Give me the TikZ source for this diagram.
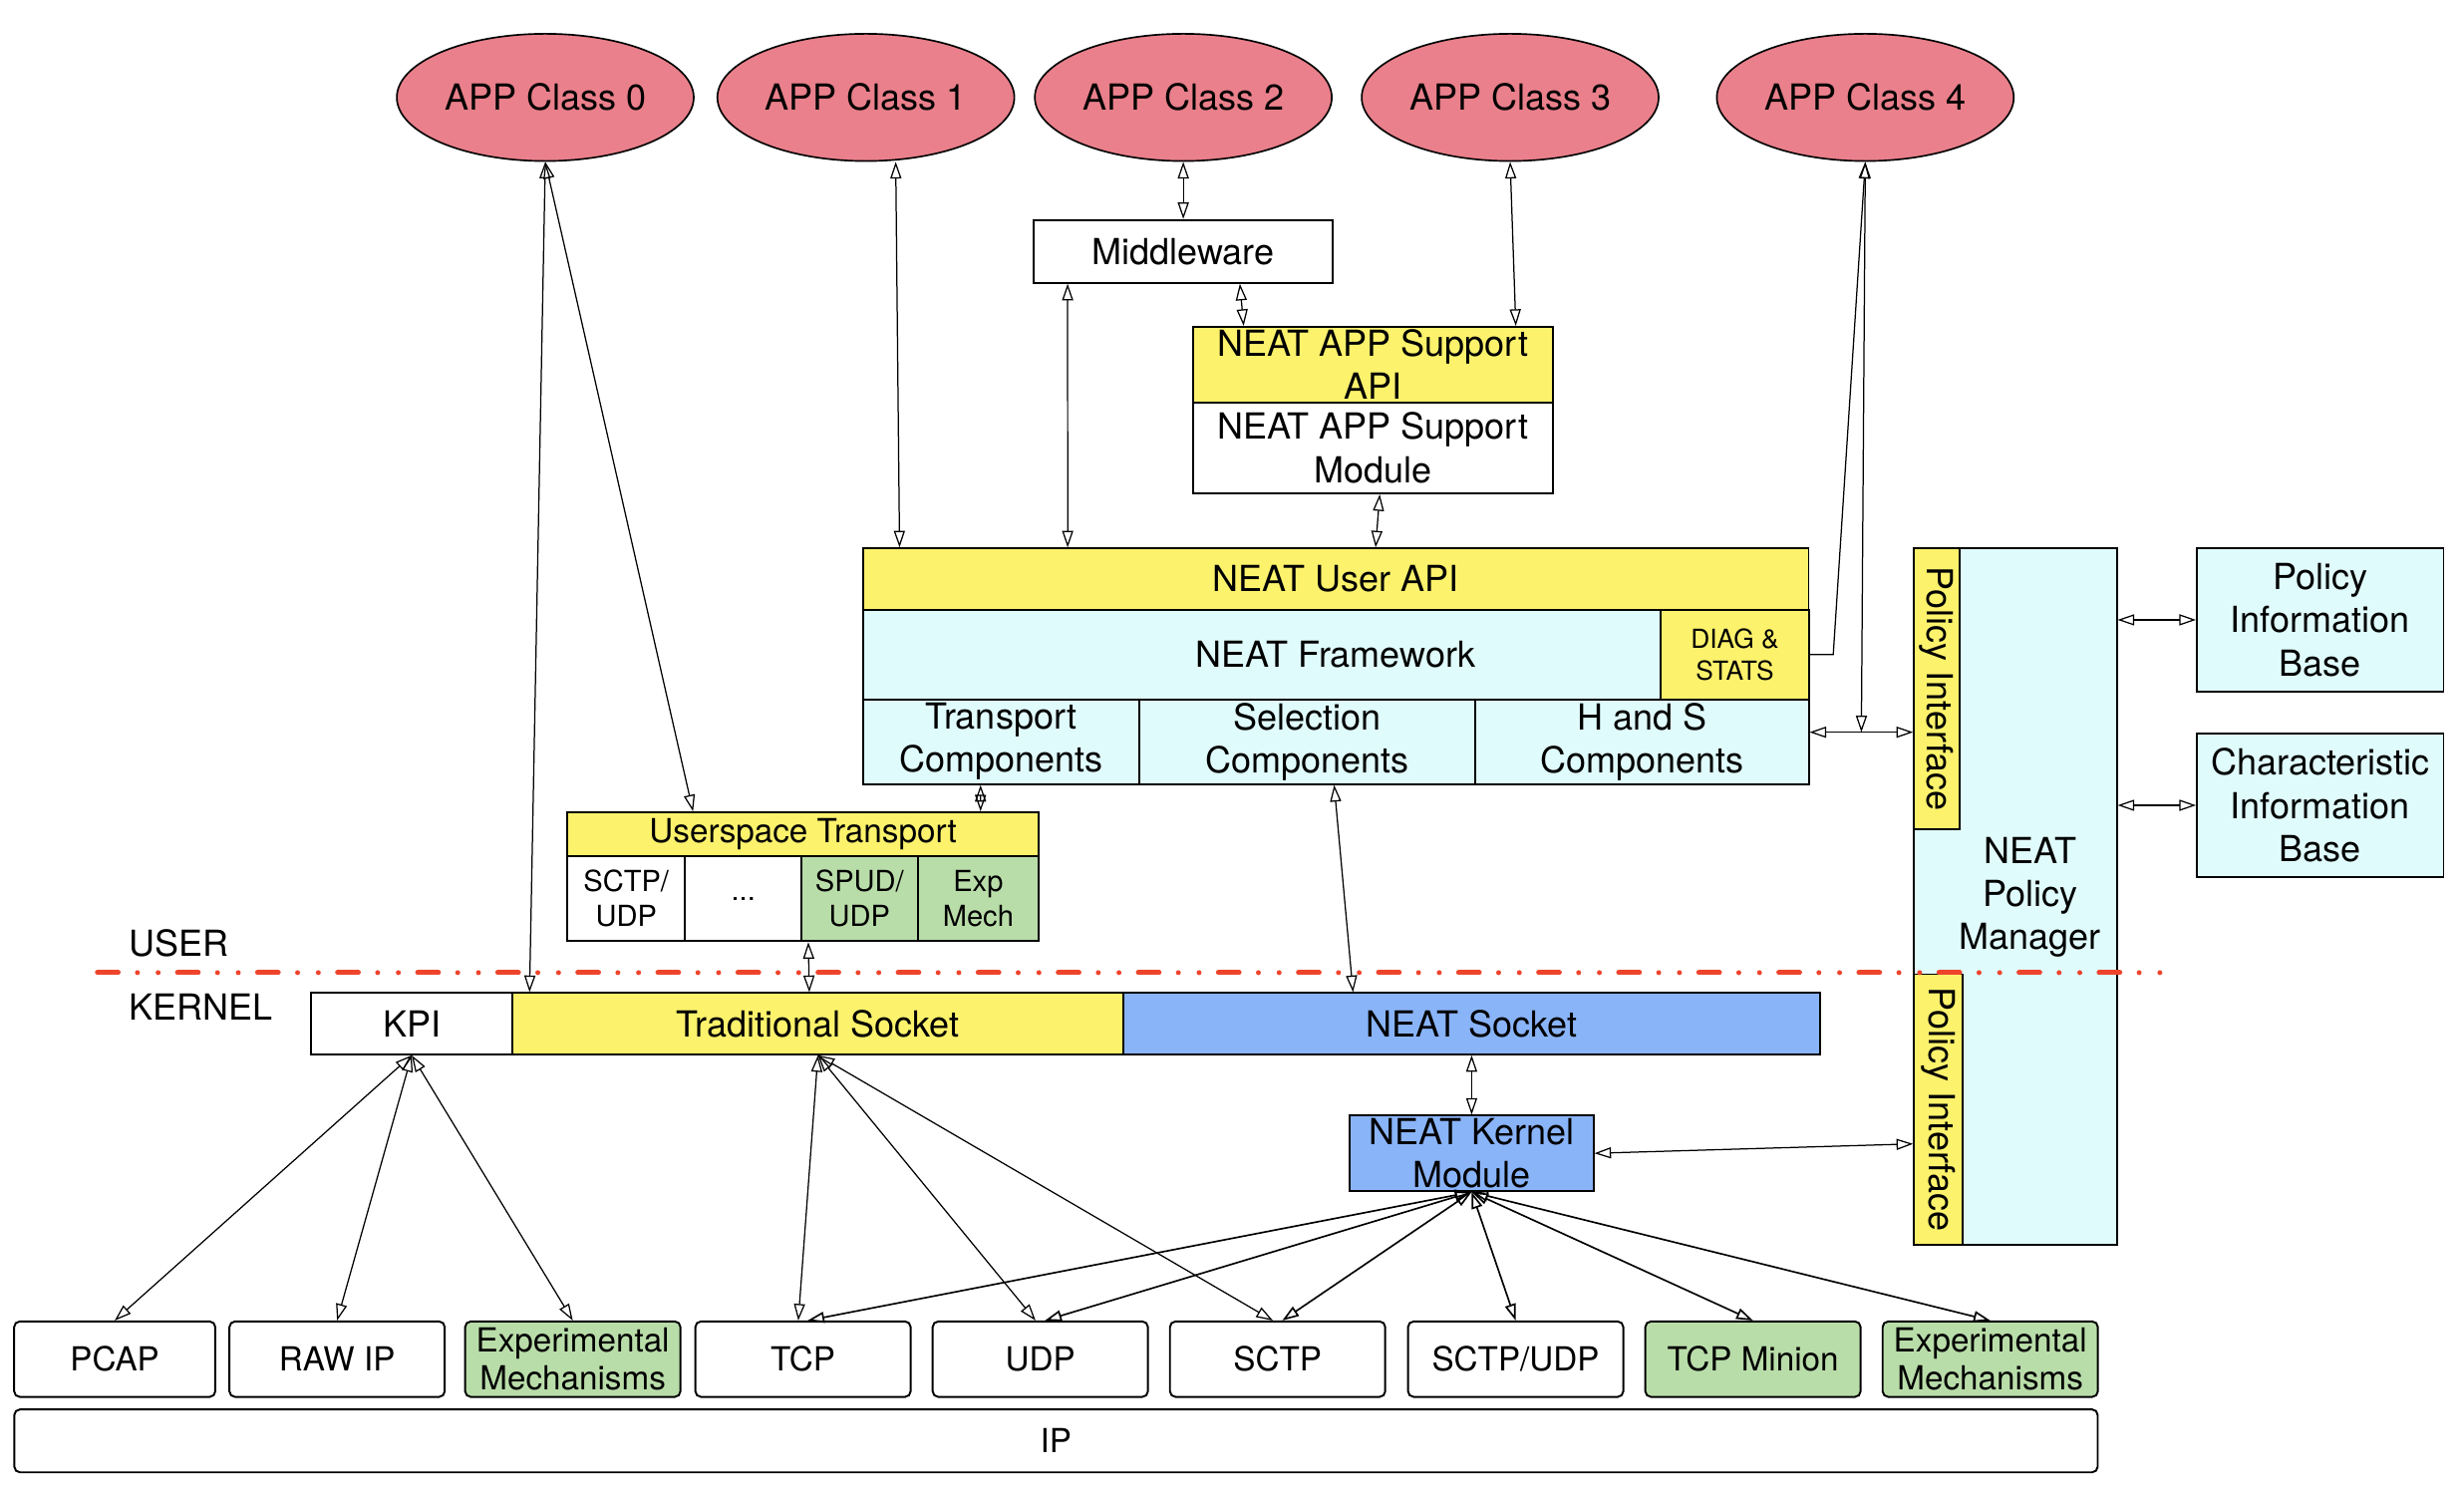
\documentclass[tikz,border=0pt]{standalone}
\usepackage{fontspec}
\setmainfont{TeX Gyre Heros}
\usetikzlibrary{arrows.meta,shapes.geometric,calc}

\definecolor{appred}{HTML}{E9808B}
\definecolor{neatyellow}{HTML}{FCF26C}
\definecolor{neatcyan}{HTML}{E0FBFC}
\definecolor{neatgreen}{HTML}{B9DDA9}
\definecolor{neatblue}{HTML}{8AB4F8}
\definecolor{borderred}{HTML}{EE442C}

\newcommand\sizeL{\fontsize{13}{15.6}\selectfont}
\newcommand\sizeM{\fontsize{12}{14}\selectfont}
\newcommand\sizeS{\fontsize{10.5}{12.6}\selectfont}
\newcommand\sizeT{\fontsize{9.5}{11.4}\selectfont}

\tikzset{
  app/.style={ellipse, draw, line width=0.6pt, fill=appred, inner sep=0pt, minimum width=3.78cm, minimum height=1.62cm, font=\sizeL},
  box/.style={draw, line width=0.7pt, inner sep=1pt, align=center, font=\sizeL},
  sub/.style={box, minimum height=1.08cm, font=\sizeS},
  bot/.style={box, rounded corners=2pt, inner sep=0.5pt, minimum width=2.74cm, minimum height=0.96cm, font=\sizeM},
  strip/.style={box, fill=neatyellow, rotate=-90},
  link/.style={<->, >={Triangle[open,length=6pt,width=4pt]}, line width=0.45pt},
  userline/.style={borderred, line width=1.8pt, line cap=round, dash pattern=on 7.5pt off 7pt on 0pt off 7.5pt on 0pt off 7pt}
}

\begin{document}
\begin{tikzpicture}[x=0.02cm,y=0.02cm]
\useasboundingbox (0,0) rectangle (1568,-950);
% applications
\node[app] (app0) at (347,-62) {APP Class 0};
\node[app] (app1) at (551,-62) {APP Class 1};
\node[app] (app2) at (753,-62) {APP Class 2};
\node[app] (app3) at (961,-62) {APP Class 3};
\node[app] (app4) at (1187,-62) {APP Class 4};
% user space
\node[box, minimum width=3.8cm, minimum height=0.8cm] (mw) at (753,-160) {Middleware};
\node[box, fill=neatyellow, minimum width=4.58cm, minimum height=0.96cm] (api) at (873.5,-232) {NEAT APP Support\\API};
\node[box, minimum width=4.58cm, minimum height=1.16cm] (mod) at (873.5,-285) {NEAT APP Support\\Module};
\node[box, fill=neatyellow, minimum width=12.04cm, minimum height=0.78cm] (uapi) at (850,-368.5) {NEAT User API};
\node[box, fill=neatcyan, minimum width=12.04cm, minimum height=1.14cm] (fw) at (850,-416.5) {NEAT Framework};
\node[box, fill=neatyellow, minimum width=1.88cm, minimum height=1.14cm, font=\sizeT] (diag) at (1104,-416.5) {DIAG \&\\STATS};
\node[box, fill=neatcyan, minimum width=3.52cm, minimum height=1.08cm] (tc) at (637,-472) {Transport\\Components};
\node[box, fill=neatcyan, minimum width=4.28cm, minimum height=1.08cm] (sc) at (832,-472) {Selection\\Components};
\node[box, fill=neatcyan, minimum width=4.24cm, minimum height=1.08cm] (hs) at (1045,-472) {H and S\\Components};
\node[box, fill=neatyellow, minimum width=6cm, minimum height=0.56cm, font=\sizeM] (ut) at (511,-531) {Userspace Transport};
\node[sub, minimum width=1.5cm] (sctpu) at (398.5,-572) {SCTP/\\UDP};
\node[sub, minimum width=1.48cm] (dots) at (473,-572) {...};
\node[sub, fill=neatgreen, minimum width=1.48cm] (spud) at (547,-572) {SPUD/\\UDP};
\node[sub, fill=neatgreen, minimum width=1.54cm] (expm) at (622.5,-572) {Exp\\Mech};
% policy
\node[box, fill=neatcyan, minimum width=2.58cm, minimum height=8.86cm] (pm) at (1282.5,-570.5) {};
\node[align=center, font=\sizeL] (pmtext) at (1292,-571) {NEAT\\Policy\\Manager};
\node[strip, minimum width=3.58cm, minimum height=0.58cm] (pi1) at (1232.5,-438.5) {Policy Interface};
\node[strip, minimum width=3.44cm, minimum height=0.62cm] (pi2) at (1233.5,-706) {Policy Interface};
\node[box, fill=neatcyan, minimum width=3.14cm, minimum height=1.82cm] (pib) at (1476.5,-394.5) {Policy\\Information\\Base};
\node[box, fill=neatcyan, minimum width=3.14cm, minimum height=1.82cm] (cib) at (1476.5,-512.5) {Characteristic\\Information\\Base};
% kernel
\node[font=\sizeL] (user) at (114,-600) {USER};
\node[font=\sizeL] (kernel) at (128,-641) {KERNEL};
\node[box, minimum width=2.56cm, minimum height=0.78cm] (kpi) at (262,-651.5) {KPI};
\node[box, fill=neatyellow, minimum width=7.78cm, minimum height=0.78cm] (ts) at (520.5,-651.5) {Traditional Socket};
\node[box, fill=neatblue, minimum width=8.86cm, minimum height=0.78cm] (ns) at (936.5,-651.5) {NEAT Socket};
\node[box, fill=neatblue, minimum width=3.1cm, minimum height=0.96cm] (nkm) at (936.5,-734) {NEAT Kernel\\Module};
\node[bot, minimum width=2.56cm] (pcap) at (73,-865) {PCAP};
\node[bot] (rawip) at (214.5,-865) {RAW IP};
\node[bot, fill=neatgreen] (exp1) at (364.5,-865) {Experimental\\Mechanisms};
\node[bot] (tcp) at (511,-865) {TCP};
\node[bot] (udp) at (662,-865) {UDP};
\node[bot] (sctp) at (813,-865) {SCTP};
\node[bot] (sctpudp) at (964.5,-865) {SCTP/UDP};
\node[bot, fill=neatgreen] (minion) at (1115.5,-865) {TCP Minion};
\node[bot, fill=neatgreen] (exp2) at (1266.5,-865) {Experimental\\Mechanisms};
\node[bot, minimum width=26.52cm, minimum height=0.8cm] (ip) at (672,-917) {IP};
% user / kernel border
\draw[userline] (62,-619) -- (1383,-619);
% links
\draw[link] (app0.south) -- ([xshift=1.5cm]kpi.north);
\draw[link] (app0.south) -- ([xshift=-1.4cm]ut.north);
\draw[link] ([xshift=0.38cm]app1.south) -- ([xshift=0.48cm]uapi.north west);
\draw[link] (app2.south) -- (mw.north);
\draw[link] ([xshift=0.72cm]mw.south) -- ([xshift=0.66cm]api.north west);
\draw[link] ([xshift=0.44cm]mw.south west) -- ([xshift=2.62cm]uapi.north west);
\draw[link] (app3.south) -- ([xshift=-0.48cm]api.north east);
\draw[link] ([xshift=0.09cm]mod.south) -- ([xshift=6.54cm]uapi.north west);
\draw[link, <-] (app4.south) -- ([xshift=0.3cm]diag.east) -- (diag.east);
\coordinate (hsr) at ([yshift=0.12cm]hs.east);
\coordinate (pil) at (hsr -| pi1.south);
\draw[link] (hsr) -- (pil);
\draw[link] (app4.south) -- ($(hsr)!0.5!(pil)$);
\draw[link] (pib.west -| pm.east) -- (pib.west);
\draw[link] (cib.west -| pm.east) -- (cib.west);
\draw[link] ([xshift=-0.26cm]tc.south) -- ([xshift=2.26cm]ut.north);
\draw[link] ([xshift=0.34cm]sc.south) -- ([xshift=-1.51cm]ns.north);
\draw[link] ([xshift=0.1cm]spud.south west) -- ([xshift=-0.11cm]ts.north);
\draw[link] (ns.south) -- (nkm.north);
\draw[link] (nkm.east) -- ([yshift=-0.44cm]pi2.south);
\draw[link] (kpi.south) -- (pcap.north);
\draw[link] (kpi.south) -- (rawip.north);
\draw[link] (kpi.south) -- (exp1.north);
\draw[link] (ts.south) -- ([xshift=-0.06cm]tcp.north);
\draw[link] (ts.south) -- ([xshift=-0.06cm]udp.north);
\draw[link] (ts.south) -- ([xshift=-0.06cm]sctp.north);
\draw[link, line width=0.6pt] (nkm.south) -- ([xshift=0.06cm]tcp.north);
\draw[link, line width=0.6pt] (nkm.south) -- ([xshift=0.06cm]udp.north);
\draw[link, line width=0.6pt] (nkm.south) -- ([xshift=0.06cm]sctp.north);
\draw[link, line width=0.6pt] (nkm.south) -- (sctpudp.north);
\draw[link, line width=0.6pt] (nkm.south) -- (minion.north);
\draw[link, line width=0.6pt] (nkm.south) -- (exp2.north);
\end{tikzpicture}
\end{document}
